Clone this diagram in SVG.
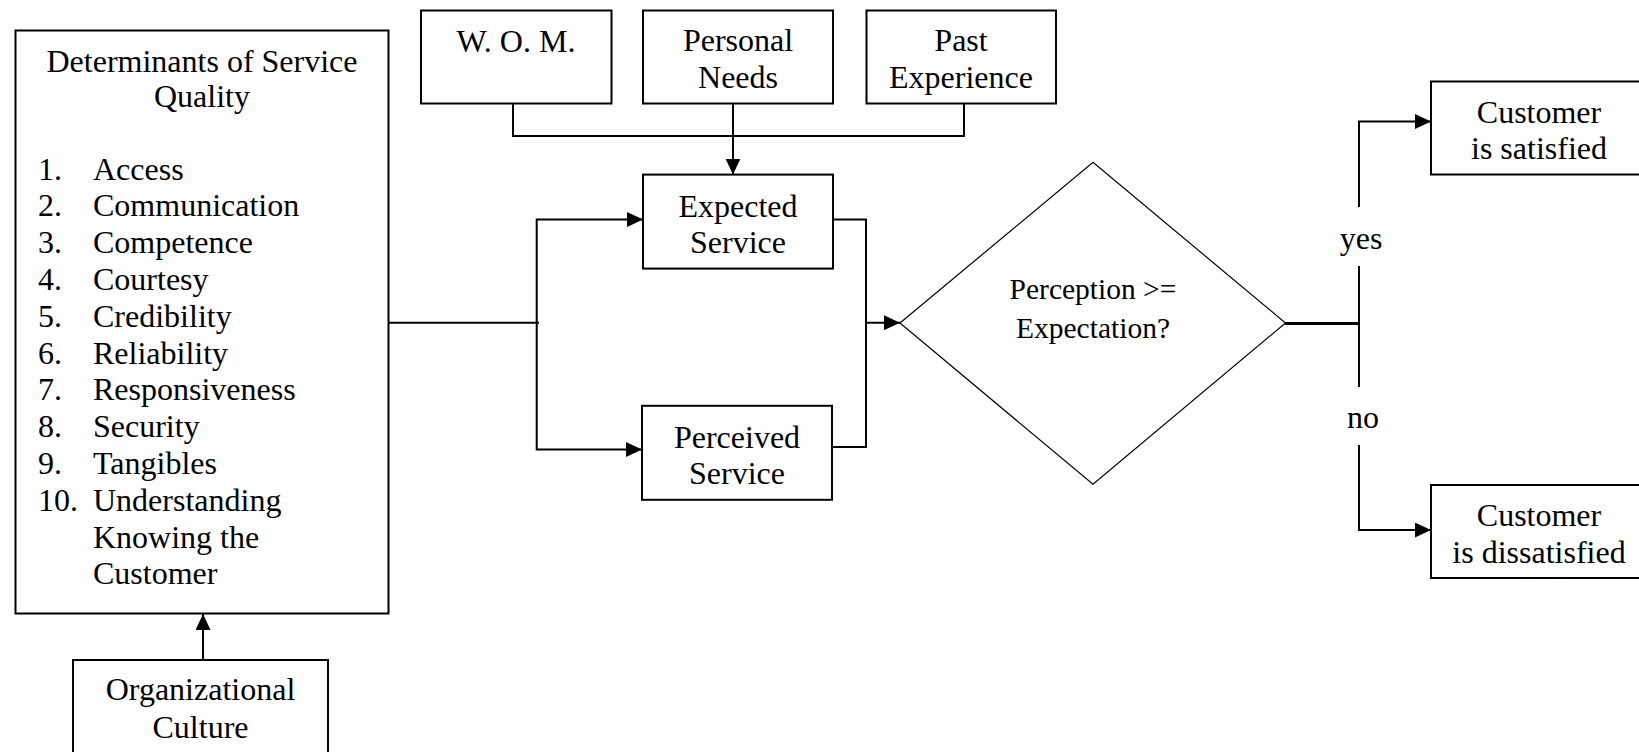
<svg xmlns="http://www.w3.org/2000/svg" width="1639" height="752" viewBox="0 0 1639 752">
<defs>
<style>
.box{fill:#fff;stroke:#000;stroke-width:2}
.dia{fill:#fff;stroke:#000;stroke-width:1.2}
.t{font-family:"Liberation Serif","Times New Roman",serif;font-size:32px;fill:#000}
.c{text-anchor:middle}
.d{font-family:"Liberation Serif","Times New Roman",serif;font-size:29.5px;fill:#000;text-anchor:middle}
.ln{fill:none;stroke:#000;stroke-width:2}
.arr{fill:none;stroke:#000;stroke-width:2;marker-end:url(#ah)}
</style>
<marker id="ah" markerUnits="userSpaceOnUse" markerWidth="16" markerHeight="15" refX="16" refY="7.5" orient="auto">
<path d="M0,0 L16,7.5 L0,15 Z" fill="#000"/>
</marker>
</defs>
<rect width="1639" height="752" fill="#fff"/>
<g id="connectors">
<polyline class="ln" points="513,103.5 513,136 964,136 964,103.5"/>
<line class="arr" x1="733" y1="103.5" x2="733" y2="174.6"/>
<line class="ln" x1="389" y1="322.7" x2="539" y2="322.7"/>
<polyline class="arr" points="536.7,322.7 536.7,219.5 643,219.5"/>
<polyline class="arr" points="536.7,322.7 536.7,449.5 642,449.5"/>
<polyline class="ln" points="833,219.5 866,219.5 866,447 832,447"/>
<line class="arr" x1="866" y1="322.7" x2="900" y2="322.7"/>
<line class="arr" x1="203" y1="660" x2="203" y2="614"/>
<line x1="1285" y1="323.5" x2="1359" y2="323.5" stroke="#000" stroke-width="3"/>
<polyline class="arr" points="1359,207 1359,121.5 1431,121.5"/>
<line class="ln" x1="1359" y1="266" x2="1359" y2="387"/>
<polyline class="arr" points="1359,445 1359,530 1431,530"/>
<text class="t c" x="1361" y="249">yes</text>
<text class="t c" x="1363" y="428">no</text>
</g>
<g id="determinants">
<rect class="box" x="15.5" y="30.5" width="373" height="583"/>
<text class="t c" x="202" y="71.5">Determinants of Service</text>
<text class="t c" x="202" y="106.5">Quality</text>
<g class="t">
<text x="38" y="179.5">1.</text><text x="93" y="179.5">Access</text>
<text x="38" y="216.3">2.</text><text x="93" y="216.3">Communication</text>
<text x="38" y="253.1">3.</text><text x="93" y="253.1">Competence</text>
<text x="38" y="289.9">4.</text><text x="93" y="289.9">Courtesy</text>
<text x="38" y="326.7">5.</text><text x="93" y="326.7">Credibility</text>
<text x="38" y="363.5">6.</text><text x="93" y="363.5">Reliability</text>
<text x="38" y="400.3">7.</text><text x="93" y="400.3">Responsiveness</text>
<text x="38" y="437.1">8.</text><text x="93" y="437.1">Security</text>
<text x="38" y="473.9">9.</text><text x="93" y="473.9">Tangibles</text>
<text x="38" y="510.7">10.</text><text x="93" y="510.7">Understanding</text>
<text x="93" y="547.5">Knowing the</text>
<text x="93" y="584.3">Customer</text>
</g>
</g>
<g id="org-culture">
<rect class="box" x="73" y="660" width="255" height="100"/>
<text class="t c" x="200.5" y="699.5">Organizational</text>
<text class="t c" x="200.5" y="738">Culture</text>
</g>
<g id="wom">
<rect class="box" x="421" y="10.5" width="190.5" height="93"/>
<text class="t c" x="516" y="51.5">W. O. M.</text>
</g>
<g id="personal-needs">
<rect class="box" x="643" y="10.5" width="190" height="93"/>
<text class="t c" x="738" y="51">Personal</text>
<text class="t c" x="738" y="87.5">Needs</text>
</g>
<g id="past-experience">
<rect class="box" x="866.5" y="10.5" width="189.5" height="93"/>
<text class="t c" x="961" y="51">Past</text>
<text class="t c" x="961" y="87.5">Experience</text>
</g>
<g id="expected-service">
<rect class="box" x="643" y="174.6" width="190" height="94"/>
<text class="t c" x="738" y="216.5">Expected</text>
<text class="t c" x="738" y="252.5">Service</text>
</g>
<g id="perceived-service">
<rect class="box" x="642" y="405.8" width="190" height="94"/>
<text class="t c" x="737" y="447.5">Perceived</text>
<text class="t c" x="737" y="483.5">Service</text>
</g>
<g id="decision">
<polygon class="dia" points="900,323 1093,162.3 1285.5,323 1093,484.3"/>
<text class="d" x="1093" y="299">Perception &gt;=</text>
<text class="d" x="1093" y="338">Expectation?</text>
</g>
<g id="satisfied">
<rect class="box" x="1431" y="81.5" width="220" height="93"/>
<text class="t c" x="1539" y="122.5">Customer</text>
<text class="t c" x="1539" y="158.5">is satisfied</text>
</g>
<g id="dissatisfied">
<rect class="box" x="1431" y="485" width="220" height="93"/>
<text class="t c" x="1539" y="526">Customer</text>
<text class="t c" x="1539" y="562.5">is dissatisfied</text>
</g>
</svg>
